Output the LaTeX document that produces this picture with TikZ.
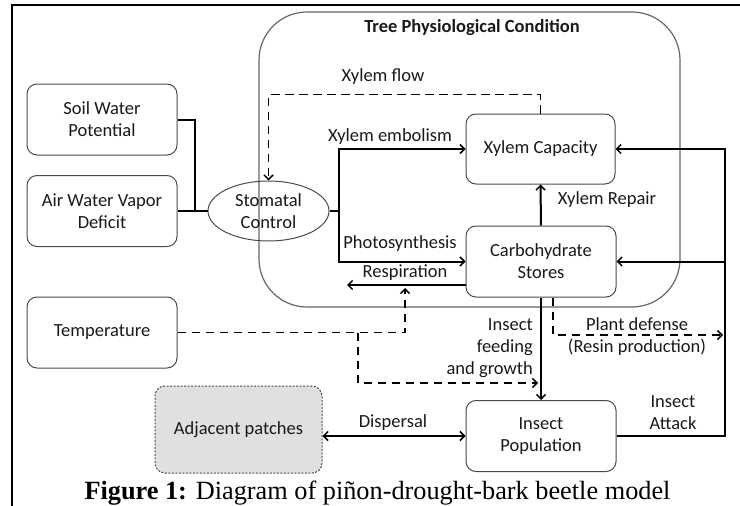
\documentclass[tikz,border=0pt]{standalone}
\usepackage{fontspec}
\setmainfont{Carlito}
\newfontfamily\capfont{Liberation Serif}
\usetikzlibrary{arrows.meta,shapes.geometric}
\definecolor{boxgray}{HTML}{4A4A4A}
\definecolor{adjfill}{HTML}{E0E0E0}
\tikzset{
  barbtip/.tip={Straight Barb[length=4.5pt,width=9pt,line width=1.5pt]},
  lbl/.style={font=\fontsize{18.5}{22}\selectfont, inner sep=0pt, align=center, text=black!90},
  box/.style={draw=boxgray, line width=1pt, rounded corners=10pt, minimum width=150pt, minimum height=71pt, lbl},
  conn/.style={line width=2pt, -{barbtip}},
  plain/.style={line width=2pt},
  dconn/.style={line width=1.9pt, dash pattern=on 8.5pt off 5.5pt, -{barbtip}},
}
\begin{document}
\begin{tikzpicture}[x=1pt,y=-1pt]
\useasboundingbox (0,0) rectangle (740,506);
% outer frame
\draw[line width=1.6pt] (12,506) -- (12,5) -- (740,5);
% tree container
\draw[draw=black!60, line width=1.2pt, rounded corners=48pt] (259,12) rectangle (680,307);
\node[lbl, font=\fontsize{18.5}{22}\selectfont\bfseries] (title) at (472,28) {Tree Physiological Condition};
% nodes
\node[box] (soil) at (102,119.5) {Soil Water\\Potential};
\node[box] (air) at (102,211) {Air Water Vapor\\Deficit};
\node[box] (temp) at (102,332.5) {Temperature};
\node[draw=boxgray, line width=1pt, ellipse, minimum width=121pt, minimum height=60pt, inner sep=0pt, lbl] (stom) at (268.5,211) {Stomatal\\Control};
\node[box, minimum width=149pt, minimum height=70pt] (xcap) at (540.5,149) {Xylem Capacity};
\node[box] (carb) at (541,261.5) {Carbohydrate\\Stores};
\node[box] (ipop) at (541,436) {Insect\\Population};
\node[box, draw=black!70, dash pattern=on 2pt off 1.5pt, fill=adjfill, minimum width=167pt, minimum height=87pt] (adj) at (238.5,429.5) {Adjacent patches};
% coordinates
\coordinate (j1) at (195,211);
\coordinate (resp) at (347,285);
\coordinate (rt) at (405,288);
\coordinate (tb) at (358,332.5);
\coordinate (ft) at (538,383);
\coordinate (pd) at (553,335);
\coordinate (pdend) at (723,335);
\coordinate (ia) at (725,149);
% connectors
\draw[plain] (soil.east) -| (j1);
\draw[plain] (air.east) -- (stom.west);
\draw[conn] (stom.east) -- ++(9,0) |- (xcap.west);
\draw[conn] (stom.east) -- ++(9,0) |- (carb.west);
\draw[conn] (carb.west |- resp) -- (resp);
\draw[dconn] (xcap.north) -- ++(0,-19) -| (stom.north);
\draw[dconn] (temp.east) -| (rt);
\draw[dconn] (tb) |- (ft);
\draw[conn] (carb.south) -- (ipop.north);
\draw[dconn] (carb.south -| pd) |- (pdend);
\draw[conn] (ipop.east) -| (ia) -- (xcap.east);
\draw[conn] (ia |- carb.east) -- (carb.east);
\draw[line width=2pt, {barbtip}-{barbtip}] (adj.east |- ipop.west) -- (ipop.west);
\draw[conn] (carb.north) -- (xcap.south);
% labels
\node[lbl] (lxf) at (383,77) {Xylem flow};
\node[lbl] (lxe) at (390,137) {Xylem embolism};
\node[lbl] (lxr) at (607,200) {Xylem Repair};
\node[lbl] (lph) at (400,244) {Photosynthesis};
\node[lbl] (lre) at (405,273) {Respiration};
\node[lbl, align=right, anchor=east] (lif) at (533,348) {Insect\\feeding\\and growth};
\node[lbl] (lpd) at (637,337) {Plant defense\\(Resin production)};
\node[lbl] (lia) at (673,413) {Insect\\Attack};
\node[lbl] (ldi) at (393,423) {Dispersal};
% caption
\node[font=\capfont\fontsize{26.3}{30}\selectfont, anchor=base, inner sep=0pt] (cap) at (377.5,499) {\textbf{Figure 1:} Diagram of piñon-drought-bark beetle model};
\end{tikzpicture}
\end{document}
